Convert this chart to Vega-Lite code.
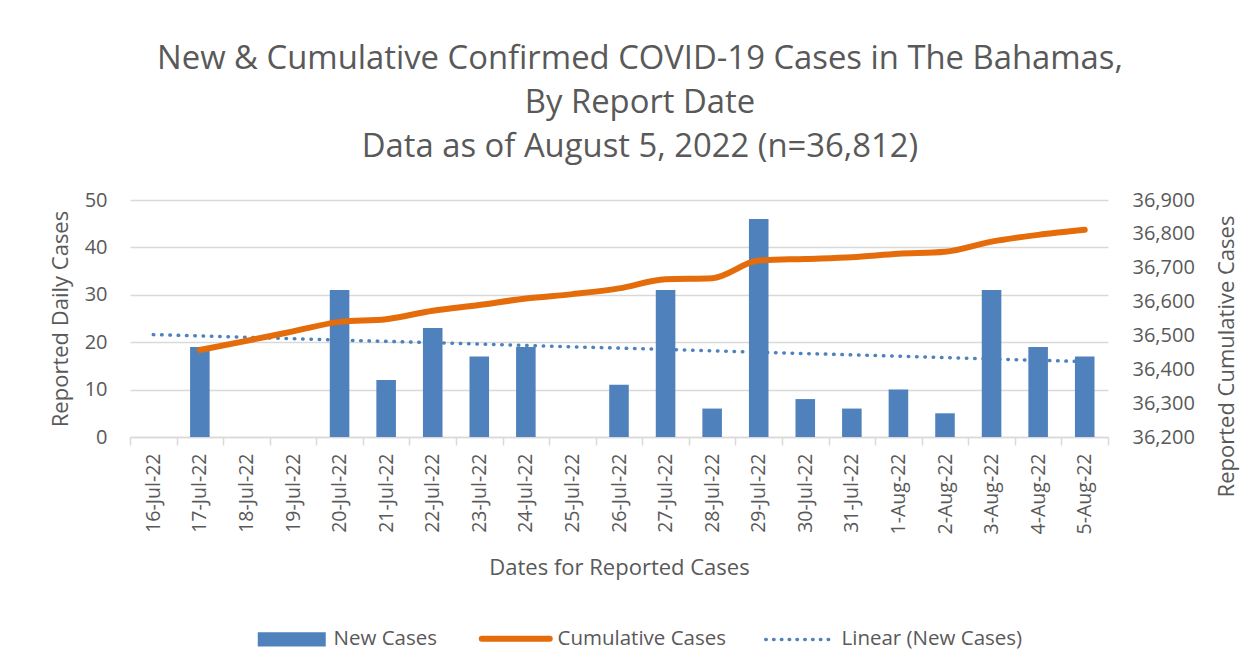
{
  "$schema": "https://vega.github.io/schema/vega-lite/v6.json",
  "autosize": "none",
  "width": 978,
  "height": 237,
  "padding": {"left": 130, "top": 200, "right": 151, "bottom": 231},
  "background": "white",
  "config": {
    "font": "Open Sans",
    "view": {"stroke": null},
    "axis": {"labelColor": "#595959", "titleColor": "#595959", "titleFontWeight": "normal", "labelFont": "Open Sans", "titleFont": "Open Sans"},
    "legend": {"labelFont": "Open Sans"}
  },
  "title": {
    "text": ["New & Cumulative Confirmed COVID-19 Cases in The Bahamas,", "By Report Date", "Data as of August 5, 2022 (n=36,812)"],
    "fontSize": 32.8,
    "fontWeight": "normal",
    "color": "#595959",
    "lineHeight": 44,
    "anchor": "middle",
    "dx": 21,
    "offset": 26
  },
  "data": {
    "values": [
      {"date": "16-Jul-22", "newCases": null, "cumulative": null, "trend": 21.6},
      {"date": "17-Jul-22", "newCases": 19, "cumulative": 36457, "trend": null},
      {"date": "18-Jul-22", "newCases": null, "cumulative": 36484, "trend": null},
      {"date": "19-Jul-22", "newCases": null, "cumulative": 36512, "trend": null},
      {"date": "20-Jul-22", "newCases": 31, "cumulative": 36540, "trend": null},
      {"date": "21-Jul-22", "newCases": 12, "cumulative": 36548, "trend": null},
      {"date": "22-Jul-22", "newCases": 23, "cumulative": 36573, "trend": null},
      {"date": "23-Jul-22", "newCases": 17, "cumulative": 36590, "trend": null},
      {"date": "24-Jul-22", "newCases": 19, "cumulative": 36609, "trend": null},
      {"date": "25-Jul-22", "newCases": null, "cumulative": 36622, "trend": null},
      {"date": "26-Jul-22", "newCases": 11, "cumulative": 36639, "trend": null},
      {"date": "27-Jul-22", "newCases": 31, "cumulative": 36666, "trend": null},
      {"date": "28-Jul-22", "newCases": 6, "cumulative": 36669, "trend": null},
      {"date": "29-Jul-22", "newCases": 46, "cumulative": 36721, "trend": null},
      {"date": "30-Jul-22", "newCases": 8, "cumulative": 36726, "trend": null},
      {"date": "31-Jul-22", "newCases": 6, "cumulative": 36731, "trend": null},
      {"date": "1-Aug-22", "newCases": 10, "cumulative": 36741, "trend": null},
      {"date": "2-Aug-22", "newCases": 5, "cumulative": 36747, "trend": null},
      {"date": "3-Aug-22", "newCases": 31, "cumulative": 36777, "trend": null},
      {"date": "4-Aug-22", "newCases": 19, "cumulative": 36797, "trend": null},
      {"date": "5-Aug-22", "newCases": 17, "cumulative": 36812, "trend": 15.9}
    ]
  },
  "encoding": {
    "x": {
      "field": "date",
      "type": "nominal",
      "sort": null,
      "scale": {
        "domain": ["16-Jul-22", "17-Jul-22", "18-Jul-22", "19-Jul-22", "20-Jul-22", "21-Jul-22", "22-Jul-22", "23-Jul-22", "24-Jul-22", "25-Jul-22", "26-Jul-22", "27-Jul-22", "28-Jul-22", "29-Jul-22", "30-Jul-22", "31-Jul-22", "1-Aug-22", "2-Aug-22", "3-Aug-22", "4-Aug-22", "5-Aug-22"],
        "paddingInner": 0,
        "paddingOuter": 0
      },
      "axis": {
        "title": "Dates for Reported Cases",
        "titleFontSize": 22,
        "titleY": 130,
        "titleBaseline": "middle",
        "labelAngle": -90,
        "labelFontSize": 19.5,
        "labelPadding": 8,
        "tickBand": "extent",
        "ticks": true,
        "tickSize": 8,
        "tickColor": "#d9d9d9",
        "tickWidth": 1.5,
        "domainColor": "#d9d9d9",
        "domainWidth": 1.5
      }
    }
  },
  "layer": [
    {
      "layer": [
        {
          "mark": {"type": "bar", "width": {"band": 0.42}},
          "encoding": {
            "y": {
              "field": "newCases",
              "type": "quantitative",
              "scale": {"domain": [0, 50]},
              "axis": {
                "title": "Reported Daily Cases",
                "titleFontSize": 22,
                "titleX": -70,
                "titleY": 118.5,
                "titleAngle": -90,
                "titleAlign": "center",
                "titleBaseline": "middle",
                "values": [0, 10, 20, 30, 40, 50],
                "labelFontSize": 20,
                "labelPadding": 23,
                "ticks": false,
                "domain": false,
                "gridColor": "#d9d9d9",
                "gridWidth": 1.5
              }
            },
            "color": {
              "datum": "New Cases",
              "type": "nominal",
              "scale": {
                "domain": ["New Cases", "Cumulative Cases", "Linear (New Cases)"],
                "range": ["#4f81bd", "#e46c0a", "#4f81bd"]
              },
              "legend": {
                "title": null,
                "orient": "none",
                "direction": "horizontal",
                "legendX": 175,
                "legendY": 428,
                "labelFontSize": 20.5,
                "labelColor": "#595959",
                "labelLimit": 400,
                "labelOffset": 8,
                "columnPadding": 31,
                "encode": {
                  "symbols": {
                    "update": {
                      "shape": {"signal": "datum.value === 'New Cases' ? 'M-1.691,-0.206H0.309V0.206H-1.691Z' : 'M-1.691,0H0.309'"},
                      "size": {"value": 4624},
                      "fill": {"signal": "datum.value === 'New Cases' ? '#4f81bd' : 'transparent'"},
                      "stroke": {"signal": "datum.value === 'Cumulative Cases' ? '#e46c0a' : '#4f81bd'"},
                      "strokeWidth": {"signal": "datum.value === 'New Cases' ? 0 : (datum.value === 'Cumulative Cases' ? 6 : 3.5)"},
                      "strokeDash": {"signal": "datum.value === 'Linear (New Cases)' ? [0.5, 7.3] : [1, 0]"},
                      "strokeCap": {"value": "round"},
                      "opacity": {"value": 1}
                    }
                  }
                }
              }
            }
          }
        },
        {
          "mark": {"type": "line", "strokeWidth": 3.5, "strokeDash": [0.5, 7.8], "strokeCap": "round"},
          "transform": [{"filter": "datum.trend != null"}],
          "encoding": {
            "y": {"field": "trend", "type": "quantitative"},
            "color": {"datum": "Linear (New Cases)", "type": "nominal"}
          }
        }
      ]
    },
    {
      "mark": {"type": "line", "strokeWidth": 6, "strokeCap": "round", "interpolate": "monotone"},
      "transform": [{"filter": "datum.cumulative != null"}],
      "encoding": {
        "y": {
          "field": "cumulative",
          "type": "quantitative",
          "scale": {"domain": [36200, 36900], "zero": false},
          "axis": {
            "orient": "right",
            "title": "Reported Cumulative Cases",
            "titleFontSize": 22,
            "titleX": 118,
            "titleY": 156,
            "titleAngle": -90,
            "titleAlign": "center",
            "titleBaseline": "middle",
            "values": [36200, 36300, 36400, 36500, 36600, 36700, 36800, 36900],
            "labelExpr": "format(datum.value, ',')",
            "labelFontSize": 20,
            "labelPadding": 24,
            "ticks": false,
            "domain": false,
            "grid": false
          }
        },
        "color": {"datum": "Cumulative Cases", "type": "nominal"}
      }
    }
  ],
  "resolve": {"scale": {"y": "independent"}}
}
